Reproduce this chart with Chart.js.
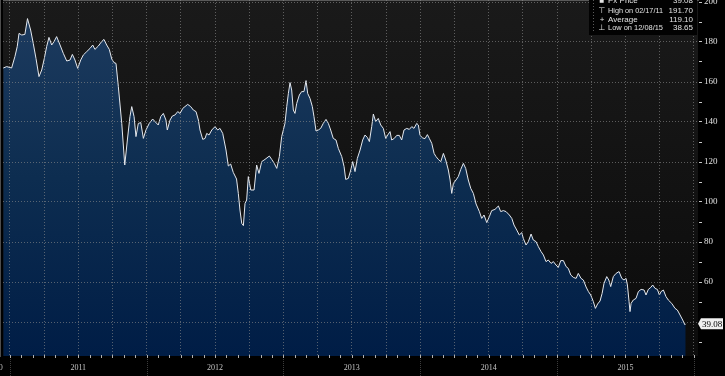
<!DOCTYPE html>
<html>
<head>
<meta charset="utf-8">
<script src="https://cdn.jsdelivr.net/npm/chart.js@4/dist/chart.umd.min.js"></script>
<style>
html, body { margin: 0; padding: 0; background: #000; }
#price_chart { display: block; }
</style>
</head>
<body>
<canvas id="price_chart" width="725" height="376"></canvas>
<script>
// dates as decimal years
var dates = [
    2010.952, 2010.977, 2011.013, 2011.037, 2011.054, 2011.067, 2011.087, 2011.110, 2011.129, 2011.152,
    2011.171, 2011.191, 2011.213, 2011.233, 2011.252, 2011.269, 2011.286, 2011.306, 2011.323, 2011.342,
    2011.367, 2011.391, 2011.416, 2011.440, 2011.457, 2011.476, 2011.496, 2011.518, 2011.537, 2011.562,
    2011.586, 2011.606, 2011.622, 2011.647, 2011.671, 2011.688, 2011.708, 2011.727, 2011.745, 2011.761,
    2011.776, 2011.793, 2011.818, 2011.840, 2011.859, 2011.878, 2011.891, 2011.908, 2011.922, 2011.939,
    2011.957, 2011.976, 2011.995, 2012.019, 2012.044, 2012.061, 2012.085, 2012.103, 2012.122, 2012.141,
    2012.151, 2012.171, 2012.188, 2012.207, 2012.227, 2012.244, 2012.264, 2012.280, 2012.300, 2012.322,
    2012.341, 2012.361, 2012.378, 2012.390, 2012.410, 2012.427, 2012.439, 2012.456, 2012.476, 2012.500,
    2012.519, 2012.536, 2012.556, 2012.580, 2012.597, 2012.614, 2012.633, 2012.657, 2012.670, 2012.682,
    2012.695, 2012.707, 2012.719, 2012.731, 2012.743, 2012.761, 2012.785, 2012.804, 2012.821, 2012.841,
    2012.865, 2012.897, 2012.914, 2012.933, 2012.951, 2012.970, 2012.987, 2012.999, 2013.011, 2013.024,
    2013.036, 2013.048, 2013.060, 2013.072, 2013.084, 2013.097, 2013.116, 2013.133, 2013.150, 2013.165,
    2013.177, 2013.194, 2013.211, 2013.223, 2013.238, 2013.255, 2013.272, 2013.291, 2013.311, 2013.328,
    2013.345, 2013.364, 2013.384, 2013.401, 2013.426, 2013.443, 2013.455, 2013.474, 2013.492, 2013.506,
    2013.523, 2013.540, 2013.560, 2013.579, 2013.596, 2013.613, 2013.628, 2013.645, 2013.657, 2013.674,
    2013.693, 2013.711, 2013.730, 2013.747, 2013.762, 2013.779, 2013.791, 2013.810, 2013.828, 2013.847,
    2013.864, 2013.881, 2013.901, 2013.920, 2013.938, 2013.954, 2013.974, 2013.986, 2013.998, 2014.018,
    2014.035, 2014.052, 2014.066, 2014.084, 2014.101, 2014.115, 2014.132, 2014.150, 2014.169, 2014.186,
    2014.205, 2014.218, 2014.230, 2014.242, 2014.261, 2014.278, 2014.296, 2014.315, 2014.332, 2014.351,
    2014.369, 2014.388, 2014.408, 2014.432, 2014.449, 2014.466, 2014.486, 2014.505, 2014.522, 2014.546,
    2014.571, 2014.588, 2014.607, 2014.627, 2014.651, 2014.669, 2014.685, 2014.705, 2014.724, 2014.742,
    2014.753, 2014.773, 2014.790, 2014.810, 2014.826, 2014.846, 2014.863, 2014.883, 2014.900, 2014.919,
    2014.936, 2014.956, 2014.973, 2014.992, 2015.009, 2015.027, 2015.046, 2015.066, 2015.082, 2015.100,
    2015.119, 2015.139, 2015.155, 2015.175, 2015.192, 2015.212, 2015.229, 2015.246, 2015.265, 2015.280,
    2015.296, 2015.314, 2015.329, 2015.343, 2015.363, 2015.378, 2015.392, 2015.411, 2015.431, 2015.453,
    2015.473, 2015.489, 2015.504, 2015.514, 2015.526, 2015.533, 2015.541, 2015.557, 2015.577, 2015.594,
    2015.614, 2015.636, 2015.650, 2015.667, 2015.685, 2015.699, 2015.716, 2015.733, 2015.748, 2015.760,
    2015.777, 2015.796, 2015.813, 2015.838, 2015.862, 2015.879, 2015.899, 2015.918, 2015.934, 2015.940
];

var prices = [
    167.0, 167.7, 167.0, 172.7, 177.7, 184.3, 183.5, 183.8, 191.7, 186.0,
    179.3, 171.8, 162.7, 166.0, 171.8, 177.7, 182.3, 178.5, 180.2, 182.7,
    178.5, 174.3, 170.5, 171.0, 173.8, 171.0, 166.8, 171.0, 173.5, 175.2,
    176.8, 178.5, 176.3, 178.0, 180.2, 181.3, 178.5, 176.3, 171.5, 169.7,
    169.3, 157.7, 139.3, 118.5, 131.0, 142.7, 147.7, 142.7, 132.7, 139.3,
    139.7, 131.8, 136.0, 139.3, 141.5, 140.2, 138.5, 142.7, 144.3, 141.0,
    136.0, 141.0, 143.0, 143.5, 145.2, 144.3, 146.8, 147.7, 148.8, 147.7,
    146.0, 145.2, 141.0, 136.0, 131.3, 131.8, 134.3, 133.5, 136.0, 137.7,
    136.0, 136.8, 134.3, 126.0, 118.0, 119.0, 114.8, 111.5, 104.3, 96.0,
    89.3, 88.2, 99.3, 101.0, 112.7, 106.0, 106.0, 118.5, 114.3, 120.2,
    121.3, 123.0, 121.3, 119.3, 116.8, 122.7, 132.7, 136.0, 139.3, 147.7,
    154.3, 159.7, 156.0, 146.0, 144.3, 149.3, 153.5, 155.2, 155.2, 160.7,
    154.3, 151.8, 147.7, 142.7, 135.5, 136.0, 136.8, 139.3, 141.3, 139.3,
    136.0, 131.8, 131.0, 126.8, 122.7, 117.7, 111.3, 111.8, 116.0, 120.2,
    115.2, 121.8, 126.0, 131.0, 133.5, 132.3, 130.2, 137.7, 144.0, 140.2,
    141.8, 138.5, 136.8, 131.8, 133.5, 135.2, 131.0, 131.8, 133.3, 133.3,
    131.0, 136.0, 136.8, 136.3, 137.7, 136.8, 139.3, 138.5, 133.3, 132.0,
    131.7, 133.7, 131.8, 129.3, 124.3, 122.7, 121.3, 120.2, 124.3, 121.0,
    116.0, 111.0, 104.3, 109.3, 111.0, 112.7, 116.3, 119.3, 116.8, 111.0,
    106.8, 104.3, 99.0, 95.2, 91.8, 93.5, 89.7, 92.7, 95.7, 96.3,
    98.0, 95.2, 95.7, 95.2, 93.5, 91.8, 88.5, 86.0, 83.5, 84.7,
    81.8, 78.5, 80.2, 84.0, 81.0, 80.2, 77.7, 75.2, 73.5, 70.2,
    71.0, 69.3, 70.2, 68.5, 67.3, 70.7, 70.7, 67.7, 66.8, 63.5,
    62.3, 61.8, 64.3, 61.8, 61.0, 57.5, 55.2, 53.5, 50.2, 46.8,
    49.0, 50.5, 54.3, 59.3, 62.7, 61.0, 57.7, 62.7, 64.3, 65.2,
    61.8, 61.0, 61.8, 58.5, 50.2, 45.2, 49.3, 51.0, 51.8, 55.2,
    56.3, 56.0, 53.5, 56.3, 57.3, 58.5, 56.8, 56.3, 53.5, 55.2,
    56.0, 52.7, 51.0, 49.3, 46.8, 46.0, 43.5, 41.0, 38.65, 39.08
];

var yearLabels = ['2011', '2012', '2013', '2014', '2015'];
var firstYear = 2011;

var legendIcons = ['\u25A0', '\u22A4', '+', '\u22A5'];
var legendNames = ['Px Price', 'High on 02/17/11', 'Average', 'Low on 12/08/15'];
var legendValues = ['39.08', '191.70', '119.10', '38.65'];

var gridColor = 'rgba(140,140,140,0.6)';

var price_chart;

function buildPoints() {
    var pts = [];
    for (var i = 0 ; i < dates.length ; i++) {
        pts.push({ x: dates[i], y: prices[i] });
    }
    return pts;
}

// background, year separators, legend box and last price tag
var bbgPlugin = {
    id: 'bbgPlugin',
    beforeDraw: function(chart) {
        var ctx = chart.ctx;
        var a = chart.chartArea;
        ctx.save();
        ctx.fillStyle = '#000';
        ctx.fillRect(0, 0, chart.width, chart.height);
        var g = ctx.createLinearGradient(0, a.top, 0, a.bottom);
        g.addColorStop(0, '#1a1a1a');
        g.addColorStop(1, '#0b0b0b');
        ctx.fillStyle = g;
        ctx.fillRect(a.left, a.top, a.right - a.left, a.bottom - a.top);
        ctx.restore();
    },
    afterDraw: function(chart) {
        var ctx = chart.ctx;
        var a = chart.chartArea;
        var xs = chart.scales.x;
        var ys = chart.scales.y;
        ctx.save();

        // separators between years in the label row
        ctx.strokeStyle = '#3c3c3c';
        ctx.lineWidth = 1;
        ctx.setLineDash([1, 1]);
        for (var yr = firstYear; yr <= firstYear + yearLabels.length; yr++) {
            var px = Math.round(xs.getPixelForValue(yr)) + 0.5;
            ctx.beginPath();
            ctx.moveTo(px, a.bottom + 3);
            ctx.lineTo(px, chart.height);
            ctx.stroke();
        }
        ctx.setLineDash([]);

        // small monthly ticks on the base line
        ctx.strokeStyle = '#b0b0b0';
        for (var m = 0; m <= yearLabels.length * 12; m++) {
            var mx = Math.round(xs.getPixelForValue(firstYear + m / 12)) + 0.5;
            ctx.beginPath();
            ctx.moveTo(mx, a.bottom - 1);
            ctx.lineTo(mx, a.bottom + 2);
            ctx.stroke();
        }

        // previous year label, cut by the left edge
        ctx.fillStyle = '#c0c0c0';
        ctx.font = '8px "Liberation Serif"';
        ctx.textAlign = 'right';
        ctx.textBaseline = 'middle';
        ctx.fillText(String(firstYear - 1), xs.getPixelForValue(firstYear) - 7, 368);

        // legend box, top right
        var bx = 589, bw = a.right - 1 - bx, bh = 35;
        ctx.fillStyle = '#020202';
        ctx.fillRect(bx, 0, bw, bh);
        ctx.strokeStyle = '#5a5a5a';
        ctx.setLineDash([1, 2]);
        ctx.beginPath();
        ctx.moveTo(bx + 4.5, 0);
        ctx.lineTo(bx + 4.5, bh - 2);
        ctx.stroke();
        ctx.setLineDash([]);

        var rowY = [0.5, 11, 19.5, 28];
        ctx.font = '8px "Liberation Sans", "DejaVu Sans"';
        ctx.textBaseline = 'middle';
        for (var i = 0 ; i < legendNames.length ; i++) {
            ctx.fillStyle = '#e2e2e2';
            ctx.textAlign = 'center';
            ctx.fillText(legendIcons[i], bx + 13, rowY[i]);
            ctx.textAlign = 'left';
            ctx.fillText(legendNames[i], bx + 19, rowY[i], 55);
            ctx.textAlign = 'right';
            ctx.fillText(legendValues[i], bx + bw - 4, rowY[i], 25);
        }

        // last price tag on the right axis
        var last = prices[prices.length - 1];
        var ty = ys.getPixelForValue(last);
        var tx = a.right;
        ctx.fillStyle = '#f0f0f0';
        ctx.beginPath();
        ctx.moveTo(tx, ty);
        ctx.lineTo(tx + 3, ty - 5.5);
        ctx.lineTo(tx + 25, ty - 5.5);
        ctx.lineTo(tx + 25, ty + 5.5);
        ctx.lineTo(tx + 3, ty + 5.5);
        ctx.closePath();
        ctx.fill();
        ctx.fillStyle = '#000';
        ctx.font = '9px "Liberation Serif"';
        ctx.textAlign = 'left';
        ctx.textBaseline = 'middle';
        ctx.fillText(last.toFixed(2), tx + 4, ty + 0.5);

        ctx.restore();
    }
};

function createPriceChart() {
    var ctx = document.getElementById('price_chart').getContext('2d');

    price_chart = new Chart(ctx, {
        type: 'line',
        data: {
            datasets: [{
                label: 'Px Price',
                data: buildPoints(),
                borderColor: '#e4e8ee',
                borderWidth: 1,
                pointRadius: 0,
                tension: 0,
                fill: 'start',
                backgroundColor: function(context) {
                    var c = context.chart;
                    var a = c.chartArea;
                    if (!a) return 'rgb(12,42,82)';
                    var g = c.ctx.createLinearGradient(0, a.top, 0, a.bottom);
                    g.addColorStop(0, 'rgb(30,60,96)');
                    g.addColorStop(0.5, 'rgb(13,45,80)');
                    g.addColorStop(1, 'rgb(0,29,70)');
                    return g;
                }
            }]
        },
        options: {
            responsive: false,
            animation: false,
            layout: { padding: { left: 3, right: 0, top: 0, bottom: 0 } },
            plugins: {
                legend: { display: false },
                tooltip: { enabled: false }
            },
            scales: {
                x: {
                    type: 'linear',
                    position: 'bottom',
                    min: 2010.95,
                    max: 2016.03,
                    afterBuildTicks: function(scale) {
                        var t = [];
                        for (var q = 0; q <= yearLabels.length * 4; q++) {
                            t.push({ value: firstYear + q / 4 });
                        }
                        scale.ticks = t;
                    },
                    afterFit: function(scale) {
                        scale.height = 20;
                        scale.paddingLeft = 0;
                        scale.paddingRight = 0;
                    },
                    grid: {
                        display: true,
                        drawOnChartArea: true,
                        z: 1,
                        color: gridColor,
                        lineWidth: 1,
                        drawTicks: false
                    },
                    border: { display: true, color: '#9a9a9a', dash: [1, 2] },
                    ticks: {
                        autoSkip: false,
                        maxRotation: 0,
                        padding: 7,
                        color: '#c4c4c4',
                        font: { family: 'Liberation Serif', size: 8 },
                        callback: function(value) {
                            var yr = Math.floor(value + 1e-6);
                            if (Math.abs(value - yr - 0.5) < 0.01) return yearLabels[yr - firstYear] || '';
                            return '';
                        }
                    }
                },
                y: {
                    type: 'linear',
                    position: 'right',
                    min: 23,
                    max: 201,
                    afterBuildTicks: function(scale) {
                        var t = [];
                        for (var v = 30; v <= 200; v += 10) t.push({ value: v });
                        scale.ticks = t;
                    },
                    afterFit: function(scale) {
                        scale.width = 27;
                        scale.paddingTop = 0;
                        scale.paddingBottom = 0;
                    },
                    grid: {
                        display: true,
                        drawOnChartArea: true,
                        z: 1,
                        color: function(c) {
                            return (c.tick && c.tick.value % 20 === 0) ? gridColor : 'rgba(0,0,0,0)';
                        },
                        lineWidth: 1,
                        drawTicks: true,
                        tickLength: 4,
                        tickColor: '#c8c8c8',
                        tickBorderDash: []
                    },
                    border: { display: true, color: '#9a9a9a', dash: [1, 2] },
                    ticks: {
                        padding: 2,
                        color: '#e0e0e0',
                        font: { family: 'Liberation Serif', size: 9 },
                        callback: function(value) {
                            if (value % 20 === 0 && value >= 60) return String(value);
                            return '';
                        }
                    }
                }
            }
        },
        plugins: [bbgPlugin]
    });
}

createPriceChart();
</script>
</body>
</html>
